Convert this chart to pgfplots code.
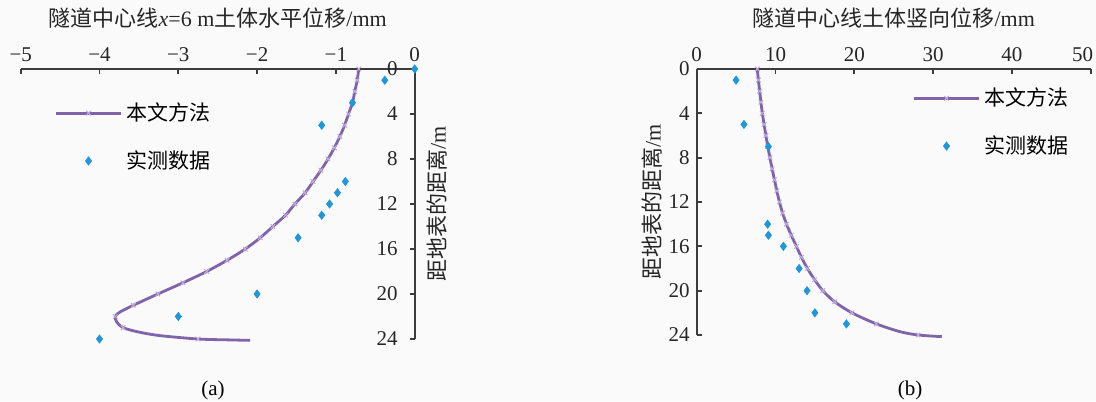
\documentclass[border=0pt]{standalone}
\usepackage{fontspec}
\setmainfont{Liberation Serif}
\newfontfamily\cjk{Noto Sans CJK SC}
\usepackage{pgfplots}
\pgfplotsset{compat=1.18}
\definecolor{bg}{HTML}{FAFAFA}
\definecolor{lineP}{RGB}{128,100,170}
\definecolor{markP}{RGB}{190,170,220}
\definecolor{ptB}{RGB}{31,150,217}
\definecolor{axc}{RGB}{60,60,60}

\pgfplotstableread{
y x
0 -0.71
1 -0.73
2 -0.76
3 -0.79
4 -0.84
5 -0.89
6 -0.95
7 -1.02
8 -1.10
9 -1.19
10 -1.29
11 -1.39
12 -1.52
13 -1.64
14 -1.80
15 -1.96
16 -2.15
17 -2.38
18 -2.64
19 -2.94
20 -3.26
21 -3.57
22 -3.80
23 -3.70
24 -2.75
}\calcA
\pgfplotstableread{
y x
0 -0.71
1 -0.73
2 -0.76
3 -0.79
4 -0.84
5 -0.89
6 -0.95
7 -1.02
8 -1.10
9 -1.19
10 -1.29
11 -1.39
12 -1.52
13 -1.64
14 -1.80
15 -1.96
16 -2.15
17 -2.38
18 -2.64
19 -2.94
20 -3.26
21 -3.57
21.6 -3.74
22 -3.80
22.5 -3.78
23 -3.70
23.4 -3.49
23.7 -3.23
24 -2.75
24.08 -2.35
24.12 -2.09
}\lineA
\pgfplotstableread{
y x
0 0
1 -0.38
3 -0.79
5 -1.18
10 -0.88
11 -0.98
12 -1.08
13 -1.18
15 -1.48
20 -2.00
22 -3.00
24 -4.00
}\measA
\pgfplotstableread{
y x
0 7.69
1 7.83
2 7.99
3 8.15
4 8.33
5 8.55
6 8.78
7 9.02
8 9.29
9 9.57
10 9.87
11 10.17
12 10.50
13 10.90
14 11.40
15 12.00
16 12.65
17 13.30
18 14.05
19 14.95
20 16.00
21 17.50
22 19.70
23 22.80
24 28.10
}\calcB
\pgfplotstableread{
y x
0 7.69
1 7.83
2 7.99
3 8.15
4 8.33
5 8.55
6 8.78
7 9.02
8 9.29
9 9.57
10 9.87
11 10.17
12 10.50
13 10.90
14 11.40
15 12.00
16 12.65
17 13.30
18 14.05
19 14.95
20 16.00
21 17.50
22 19.70
23 22.80
23.7 25.80
24 28.10
24.15 31.10
}\lineB
\pgfplotstableread{
y x
1 5.0
5 6.0
7 9.1
14 9.0
15 9.1
16 11.0
18 13.0
20 14.0
22 15.0
23 19.0
}\measB

\pgfplotsset{
  myax/.style={
    scale only axis, width=197pt,
    y dir=reverse, ymin=0, ymax=24, ytick={0,4,...,24},
    tick align=inside, major tick length=2.5pt,
    axis line style={axc, line width=0.9pt},
    tick style={axc, line width=0.9pt},
    every tick label/.append style={font=\fontsize{10.5}{12}\selectfont, text=black!85},
    /pgf/number format/assume math mode=true,
    legend style={draw=none, fill=none, font=\cjk\fontsize{10.5}{12}\selectfont,
      row sep=9.5pt, inner sep=0pt, cells={anchor=west}},
    legend image code/.code={\draw[mark repeat=2,mark phase=2,##1] plot coordinates {(0pt,0pt) (16.25pt,0pt) (32.5pt,0pt)};},
    title style={font=\cjk\fontsize{11}{13}\selectfont, text=black!85},
    ylabel style={font=\cjk\fontsize{11}{13}\selectfont, text=black!85},
    clip=false,
  },
  calcline/.style={lineP, line width=1.4pt, smooth, no marks},
  calcmarks/.style={only marks, mark=x, mark size=1.6pt, mark options={markP, line width=0.5pt}},
  measmarks/.style={only marks, mark=diamond*, mark size=2pt, mark options={ptB, fill=ptB, draw=ptB}},
}

\begin{document}
\begin{tikzpicture}
\useasboundingbox (0,0) rectangle (548pt,200.5pt);
\fill[bg] (0,0) rectangle (548pt,200.5pt);

\begin{axis}[myax, at={(10.35pt,166pt)}, anchor=north west, height=135pt,
  xmin=-5, xmax=0, xtick={-5,-4,-3,-2,-1,0},
  xticklabels={−5,−4,−3,−2,−1,0},
  axis x line*=top, axis y line*=right,
  yticklabel style={anchor=east, xshift=-5pt},
  title={\cjk 隧道中心线{\rmfamily\textit{x}=6 m}土体水平位移{\rmfamily /mm}},
  title style={at={(axis description cs:0.5,1)}, anchor=center, yshift=19.5pt},
  ylabel={\cjk 距地表的距离{\rmfamily /m}},
  ylabel style={at={(axis description cs:1.057,0.5)}, anchor=center, rotate=0},
  legend style={at={(axis description cs:0.085,0.748)}, anchor=west},
]
\addplot[calcline, forget plot] table[x=x,y=y] {\lineA};
\addplot[calcmarks, forget plot] table[x=x,y=y] {\calcA};
\addlegendimage{lineP, line width=1.4pt, mark=x, mark size=1.6pt, mark options={markP, line width=0.5pt}}
\addlegendentry{本文方法}
\addplot[measmarks] table[x=x,y=y] {\measA};
\addlegendentry{实测数据}
\end{axis}

\begin{axis}[myax, at={(348.35pt,166pt)}, anchor=north west, height=133pt,
  xmin=0, xmax=50, xtick={0,10,...,50},
  xticklabels={0,10,20,30,40,\hspace*{-8pt}50},
  axis x line*=top, axis y line*=left,
  title={\cjk 隧道中心线土体竖向位移{\rmfamily /mm}},
  title style={at={(axis description cs:0.5,1)}, anchor=center, yshift=19.5pt},
  ylabel={\cjk 距地表的距离{\rmfamily /m}},
  ylabel style={at={(axis description cs:-0.113,0.5)}, anchor=center, rotate=0},
  legend style={at={(axis description cs:0.547,0.80)}, anchor=west},
]
\addplot[calcline, forget plot] table[x=x,y=y] {\lineB};
\addplot[calcmarks, forget plot] table[x=x,y=y] {\calcB};
\addlegendimage{lineP, line width=1.4pt, mark=x, mark size=1.6pt, mark options={markP, line width=0.5pt}}
\addlegendentry{本文方法}
\addplot[measmarks] table[x=x,y=y] {\measB};
\addlegendentry{实测数据}
\end{axis}

\node[font=\fontsize{10.5}{12}\selectfont] at (106.5pt,5.5pt) {(a)};
\node[font=\fontsize{10.5}{12}\selectfont] at (455pt,5.5pt) {(b)};
\end{tikzpicture}
\end{document}
